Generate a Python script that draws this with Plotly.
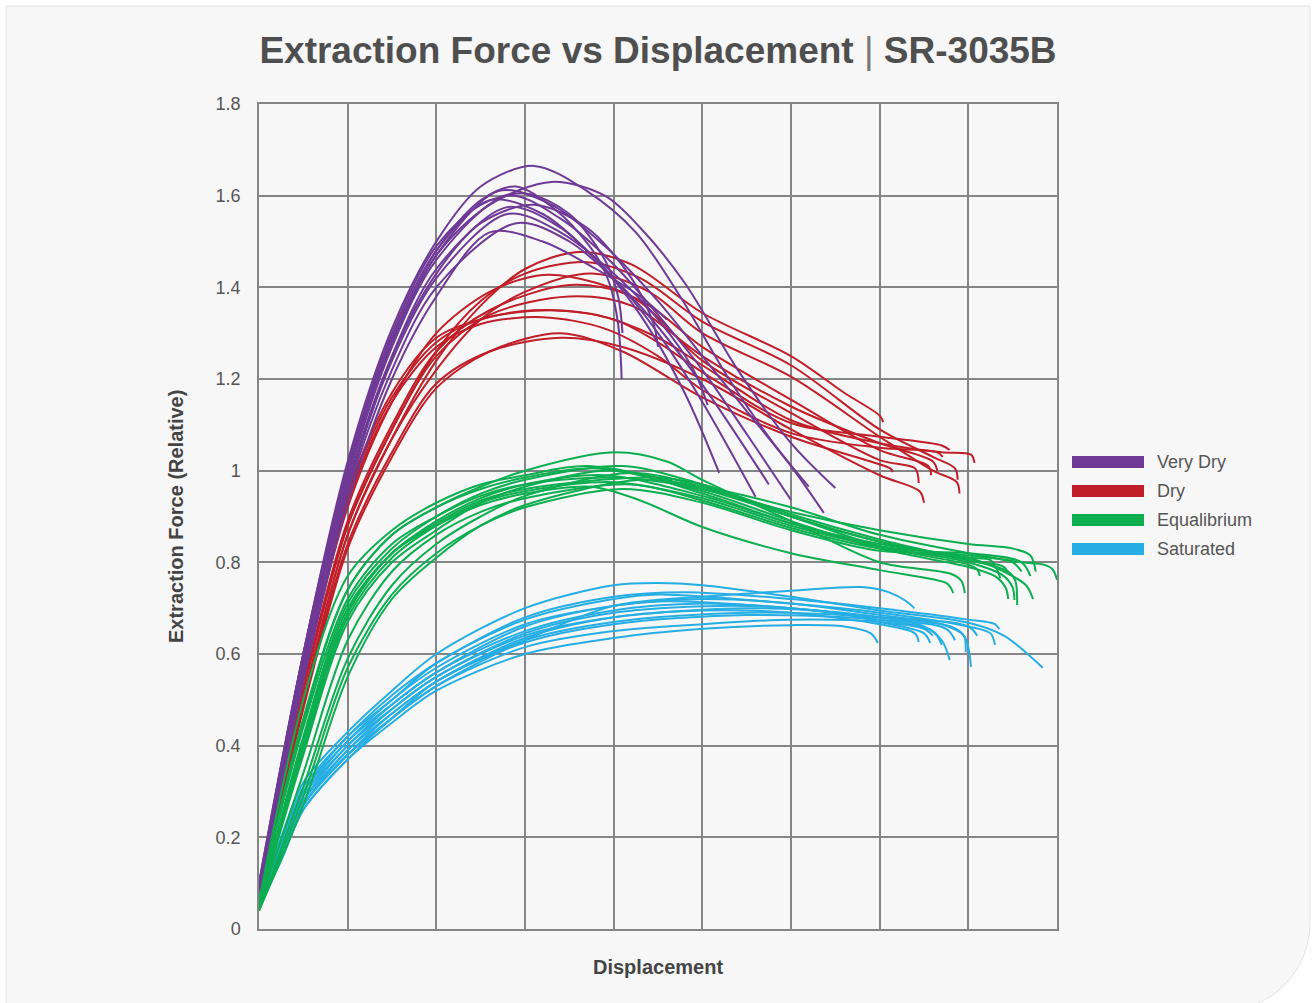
import plotly.graph_objects as go

# ---------------- data (x in displacement grid units, y relative force) ----------------
SERIES_NAMES = ["Very Dry", "Dry", "Equalibrium", "Saturated"]
SERIES_COLORS = ["#6f3996", "#c01e28", "#0cae50", "#26aee4"]

VERY_DRY_X = [
    [0, 0.5, 1, 1.5, 2, 2.5, 3.1, 3.7, 4.25, 4.75, 5.3, 5.8, 6.2],
    [0, 0.5, 1, 1.5, 2, 2.6, 3.3, 3.9, 4.3, 4.8, 5.4, 6.0, 6.5],
    [0, 0.5, 1, 1.5, 2, 2.5, 2.9, 3.4, 3.8, 3.95, 4.05, 4.09],
    [0, 0.5, 1, 1.5, 2, 2.7, 3.3, 3.9, 4.5, 5.0, 5.5, 6.0, 6.37],
    [0, 0.5, 1, 1.5, 2, 2.5, 3.0, 3.5, 3.9, 4.05, 4.1],
    [0, 0.5, 1, 1.5, 2, 2.8, 3.4, 4.0, 4.5, 5.0, 5.5, 6.0],
    [0, 0.5, 1, 1.5, 2, 2.6, 3.2, 3.8, 4.3, 4.8, 5.19],
    [0, 0.5, 1, 1.5, 2, 2.5, 3.1, 3.7, 4.2, 4.45, 4.5],
    [0, 0.5, 1, 1.5, 2, 2.8, 3.4, 4.0, 4.5, 5.0, 5.6],
    [0, 0.5, 1, 1.5, 2, 2.8, 3.4, 4.0, 4.5, 4.9, 5.06],
    [0, 0.5, 1, 1.5, 2, 2.9, 3.5, 4.1, 4.6, 5.1, 5.75],
    [0, 0.5, 1, 1.5, 2, 2.6, 3.2, 3.8, 4.3, 4.6],
]
VERY_DRY_Y = [
    [0.09, 0.60, 1.02, 1.31, 1.50, 1.62, 1.665, 1.61, 1.52, 1.38, 1.20, 1.06, 0.965],
    [0.10, 0.60, 1.00, 1.28, 1.47, 1.58, 1.63, 1.60, 1.53, 1.41, 1.22, 1.06, 0.962],
    [0.08, 0.58, 1.00, 1.29, 1.48, 1.59, 1.62, 1.56, 1.47, 1.41, 1.32, 1.20],
    [0.08, 0.58, 0.99, 1.28, 1.47, 1.61, 1.58, 1.49, 1.37, 1.25, 1.13, 1.01, 0.908],
    [0.09, 0.60, 1.01, 1.30, 1.49, 1.58, 1.605, 1.56, 1.46, 1.38, 1.30],
    [0.07, 0.57, 0.98, 1.27, 1.46, 1.60, 1.55, 1.45, 1.34, 1.22, 1.08, 0.936],
    [0.10, 0.60, 1.00, 1.29, 1.48, 1.59, 1.56, 1.46, 1.34, 1.17, 0.995],
    [0.08, 0.57, 0.97, 1.25, 1.43, 1.54, 1.58, 1.53, 1.42, 1.32, 1.27],
    [0.08, 0.56, 0.96, 1.25, 1.44, 1.575, 1.53, 1.42, 1.30, 1.15, 0.943],
    [0.09, 0.56, 0.96, 1.24, 1.42, 1.56, 1.52, 1.43, 1.33, 1.22, 1.143],
    [0.07, 0.55, 0.95, 1.22, 1.40, 1.54, 1.50, 1.40, 1.29, 1.16, 0.97],
    [0.08, 0.54, 0.93, 1.20, 1.38, 1.52, 1.50, 1.44, 1.38, 1.33],
]

DRY_X = [
    [0, 0.5, 1, 1.5, 2, 2.5, 3.0, 3.6, 4.2, 5.0, 6.0, 6.6, 7.0, 7.04],
    [0, 0.5, 1, 1.5, 2, 2.5, 3.0, 3.7, 4.3, 5.0, 6.0, 7.0, 7.6, 7.85, 7.88],
    [0, 0.5, 1, 1.5, 2, 2.5, 3.0, 3.75, 4.4, 5.0, 6.0, 7.0, 7.6, 7.87, 7.9],
    [0, 0.5, 1, 1.5, 2, 2.6, 3.2, 3.8, 4.4, 5.0, 6.0, 7.0, 7.55, 7.58],
    [0, 0.5, 1, 1.5, 2, 2.6, 3.5, 4.2, 5.0, 6.0, 7.0, 7.4, 7.44],
    [0, 0.5, 1, 1.5, 2, 2.5, 3.1, 3.8, 4.5, 5.0, 6.0, 7.0, 7.7, 8.03, 8.07],
    [0, 0.5, 1, 1.5, 2, 2.5, 3.3, 4.0, 4.5, 5.0, 6.0, 7.0, 7.7, 7.79],
    [0, 0.5, 1, 1.5, 2, 2.5, 3.2, 3.9, 4.5, 5.0, 6.0, 7.0, 7.65, 7.71],
    [0, 0.5, 1, 1.5, 2, 2.6, 3.4, 4.1, 5.0, 6.0, 6.9, 7.12, 7.15],
    [0, 0.5, 1, 1.5, 2, 2.6, 3.4, 4.1, 5.0, 6.0, 7.0, 7.45, 7.5],
    [0, 0.5, 1, 1.5, 2, 2.6, 3.5, 4.2, 5.0, 6.0, 7.0, 7.6, 7.65],
]
DRY_Y = [
    [0.08, 0.50, 0.86, 1.07, 1.24, 1.36, 1.44, 1.477, 1.45, 1.344, 1.25, 1.17, 1.12, 1.106],
    [0.09, 0.52, 0.88, 1.09, 1.26, 1.37, 1.43, 1.455, 1.42, 1.325, 1.23, 1.09, 1.03, 1.005, 0.98],
    [0.07, 0.50, 0.86, 1.07, 1.22, 1.33, 1.39, 1.43, 1.39, 1.30, 1.205, 1.074, 1.0, 0.975, 0.95],
    [0.08, 0.55, 0.92, 1.15, 1.30, 1.39, 1.427, 1.41, 1.36, 1.27, 1.155, 1.045, 1.01, 0.99],
    [0.08, 0.53, 0.89, 1.10, 1.26, 1.35, 1.405, 1.38, 1.24, 1.126, 1.023, 1.005, 0.973],
    [0.09, 0.57, 0.95, 1.17, 1.29, 1.33, 1.35, 1.34, 1.29, 1.23, 1.11, 1.06, 1.04, 1.035, 1.017],
    [0.09, 0.56, 0.94, 1.16, 1.28, 1.33, 1.35, 1.33, 1.28, 1.215, 1.104, 1.074, 1.055, 1.045],
    [0.08, 0.55, 0.93, 1.15, 1.27, 1.32, 1.335, 1.31, 1.25, 1.176, 1.082, 1.05, 1.04, 1.03],
    [0.07, 0.48, 0.83, 1.03, 1.18, 1.26, 1.30, 1.26, 1.16, 1.074, 1.02, 1.005, 0.997],
    [0.07, 0.49, 0.84, 1.04, 1.19, 1.26, 1.29, 1.27, 1.20, 1.09, 0.99, 0.955, 0.93],
    [0.08, 0.52, 0.88, 1.09, 1.25, 1.34, 1.38, 1.36, 1.25, 1.14, 1.06, 1.02, 1.0],
]

EQUALIBRIUM_X = [
    [0, 0.5, 1, 1.5, 2, 2.5, 3, 3.75, 4.3, 5, 6, 7, 7.75, 7.8, 7.83],
    [0, 0.5, 1, 1.5, 2, 2.5, 3, 4.0, 4.6, 5, 6, 7, 7.8, 7.92, 7.96],
    [0, 0.5, 1, 1.5, 2, 2.5, 3, 3.7, 5, 6, 7, 8, 8.1, 8.13],
    [0, 0.5, 1, 1.5, 2, 2.5, 3, 4.1, 5, 6, 7, 8, 8.3, 8.36],
    [0, 0.5, 1, 1.5, 2, 2.5, 3, 3.8, 5, 6, 7, 8, 8.3, 8.42, 8.45],
    [0, 0.5, 1, 1.5, 2, 2.5, 3, 4.0, 5, 6, 7, 8, 8.4, 8.5, 8.52],
    [0, 0.5, 1, 1.5, 2, 2.5, 3, 4.2, 5, 6, 7, 8, 8.45, 8.53, 8.55],
    [0, 0.5, 1, 1.5, 2, 2.5, 3, 3.9, 5, 6, 7, 8, 8.4, 8.65, 8.73],
    [0, 0.5, 1, 1.5, 2, 2.5, 3, 4.0, 5, 6, 7, 8, 8.5, 8.7, 8.76],
    [0, 0.5, 1, 1.5, 2, 2.5, 3, 4.3, 5, 6, 7, 8, 8.6, 8.85, 8.95, 9.0],
    [0, 0.5, 1, 1.5, 2, 2.5, 3, 4.0, 5, 6, 7, 8, 8.5, 8.6],
    [0, 0.5, 1, 1.5, 2, 2.5, 3, 4.2, 5, 6, 7, 8, 8.25, 8.3],
    [0, 0.5, 1, 1.5, 2, 2.5, 3, 4.1, 5, 6, 7, 8, 8.6, 8.7],
    [0, 0.5, 1, 1.5, 2, 2.5, 3, 4.4, 5, 6, 7, 8, 8.4, 8.45],
]
EQUALIBRIUM_Y = [
    [0.05, 0.40, 0.69, 0.82, 0.88, 0.925, 0.95, 0.965, 0.935, 0.877, 0.82, 0.783, 0.755, 0.745, 0.733],
    [0.06, 0.45, 0.74, 0.86, 0.92, 0.965, 1.0, 1.04, 1.02, 0.98, 0.89, 0.80, 0.775, 0.76, 0.733],
    [0.06, 0.50, 0.77, 0.87, 0.93, 0.97, 0.99, 1.01, 0.96, 0.90, 0.835, 0.795, 0.785, 0.77],
    [0.05, 0.42, 0.71, 0.83, 0.90, 0.95, 0.98, 1.01, 0.97, 0.905, 0.85, 0.805, 0.79, 0.765],
    [0.06, 0.46, 0.74, 0.86, 0.92, 0.96, 0.985, 1.005, 0.955, 0.89, 0.83, 0.79, 0.77, 0.745, 0.72],
    [0.05, 0.38, 0.67, 0.80, 0.87, 0.93, 0.965, 1.0, 0.95, 0.885, 0.835, 0.80, 0.77, 0.745, 0.718],
    [0.04, 0.31, 0.59, 0.75, 0.84, 0.90, 0.945, 0.995, 0.965, 0.90, 0.845, 0.805, 0.78, 0.76, 0.707],
    [0.05, 0.41, 0.70, 0.82, 0.89, 0.94, 0.97, 0.99, 0.945, 0.885, 0.84, 0.81, 0.78, 0.75, 0.72],
    [0.06, 0.44, 0.72, 0.84, 0.90, 0.945, 0.97, 0.985, 0.96, 0.91, 0.87, 0.84, 0.83, 0.815, 0.78],
    [0.04, 0.27, 0.55, 0.72, 0.81, 0.88, 0.925, 0.98, 0.965, 0.92, 0.86, 0.82, 0.80, 0.795, 0.785, 0.762],
    [0.05, 0.39, 0.68, 0.81, 0.88, 0.93, 0.955, 0.975, 0.94, 0.88, 0.835, 0.815, 0.80, 0.78],
    [0.05, 0.34, 0.63, 0.78, 0.86, 0.91, 0.94, 0.97, 0.935, 0.875, 0.83, 0.81, 0.805, 0.79],
    [0.04, 0.29, 0.57, 0.73, 0.82, 0.88, 0.92, 0.96, 0.93, 0.87, 0.825, 0.82, 0.80, 0.77],
    [0.05, 0.40, 0.69, 0.82, 0.885, 0.935, 0.96, 0.985, 0.97, 0.90, 0.845, 0.805, 0.79, 0.775],
]

SATURATED_X = [
    [0, 0.25, 0.5, 1, 1.5, 2, 3, 4, 4.5, 5, 6, 7, 8, 8.4, 8.84],
    [0, 0.25, 0.5, 1, 1.5, 2, 3, 4, 5, 6, 6.8, 7.1, 7.3, 7.39],
    [0, 0.25, 0.5, 1, 1.5, 2, 3, 4, 4.8, 6, 7, 8, 8.3, 8.35],
    [0, 0.25, 0.5, 1, 1.5, 2, 3, 4, 4.5, 6, 7, 8, 8.25, 8.3],
    [0, 0.25, 0.5, 1, 1.5, 2, 3, 4, 5, 6, 7, 7.7, 7.95, 8.03],
    [0, 0.25, 0.5, 1, 1.5, 2, 3, 4, 4.6, 6, 7, 7.8, 7.95, 7.97],
    [0, 0.25, 0.5, 1, 1.5, 2, 3, 4, 5, 6, 7, 7.5, 7.7, 7.79],
    [0, 0.25, 0.5, 1, 1.5, 2, 3, 4, 5.2, 6, 7, 7.6, 7.7],
    [0, 0.25, 0.5, 1, 1.5, 2, 3, 4, 5.5, 6.5, 7, 7.5, 7.57],
    [0, 0.25, 0.5, 1, 1.5, 2, 3, 4, 5, 6, 7, 7.4, 7.44],
    [0, 0.25, 0.5, 1, 1.5, 2, 3, 4, 5.5, 7, 8, 8.1],
    [0, 0.25, 0.5, 1, 1.5, 2, 3, 4, 5.5, 7, 7.75, 7.85],
    [0, 0.25, 0.5, 1, 1.5, 2, 3, 4, 5, 6, 7, 7.5, 7.6],
    [0, 0.25, 0.5, 1, 1.5, 2, 3, 4, 5, 6, 6.6, 6.9, 6.98],
]
SATURATED_Y = [
    [0.07, 0.20, 0.32, 0.43, 0.52, 0.60, 0.70, 0.75, 0.755, 0.75, 0.725, 0.695, 0.668, 0.64, 0.57],
    [0.05, 0.16, 0.27, 0.38, 0.46, 0.53, 0.63, 0.705, 0.725, 0.738, 0.746, 0.735, 0.715, 0.70],
    [0.06, 0.19, 0.31, 0.42, 0.51, 0.58, 0.68, 0.725, 0.735, 0.72, 0.70, 0.675, 0.665, 0.654],
    [0.06, 0.19, 0.30, 0.42, 0.50, 0.58, 0.675, 0.72, 0.73, 0.71, 0.69, 0.66, 0.645, 0.62],
    [0.06, 0.18, 0.30, 0.41, 0.50, 0.57, 0.665, 0.705, 0.72, 0.71, 0.685, 0.665, 0.64, 0.572],
    [0.06, 0.18, 0.29, 0.41, 0.49, 0.56, 0.66, 0.705, 0.715, 0.70, 0.68, 0.66, 0.64, 0.604],
    [0.05, 0.17, 0.29, 0.40, 0.49, 0.56, 0.65, 0.695, 0.71, 0.70, 0.68, 0.66, 0.63, 0.587],
    [0.05, 0.17, 0.28, 0.40, 0.48, 0.55, 0.645, 0.69, 0.705, 0.70, 0.675, 0.65, 0.62],
    [0.05, 0.17, 0.28, 0.39, 0.48, 0.55, 0.64, 0.68, 0.70, 0.69, 0.67, 0.645, 0.624],
    [0.05, 0.16, 0.27, 0.39, 0.47, 0.54, 0.635, 0.68, 0.695, 0.69, 0.665, 0.645, 0.626],
    [0.05, 0.16, 0.27, 0.38, 0.47, 0.54, 0.63, 0.67, 0.69, 0.68, 0.66, 0.64],
    [0.05, 0.16, 0.27, 0.38, 0.46, 0.54, 0.625, 0.665, 0.685, 0.675, 0.655, 0.63],
    [0.05, 0.15, 0.26, 0.37, 0.46, 0.53, 0.615, 0.65, 0.665, 0.675, 0.67, 0.655, 0.64],
    [0.05, 0.15, 0.26, 0.37, 0.45, 0.52, 0.60, 0.635, 0.655, 0.663, 0.66, 0.645, 0.624],
]

Y_TICKS = [0, 0.2, 0.4, 0.6, 0.8, 1.0, 1.2, 1.4, 1.6, 1.8]
Y_TICK_LABELS = ["0", "0.2", "0.4", "0.6", "0.8", "1", "1.2", "1.4", "1.6", "1.8"]

# ---------------- figure ----------------
W, H = 1316, 1003
OFF = 0  # body margin removed by post_script below
SX0, SX1, SY0, SY1 = 259, 1057, 104, 929   # target screen positions of the plot area
ML, MT = SX0 - OFF, SY0 - OFF
MR, MB = W - (SX1 - OFF), H - (SY1 - OFF)
PW, PH = SX1 - SX0, SY1 - SY0
FONT = "Liberation Sans, Arial, Helvetica, sans-serif"


def px(xs):
    """screen x pixel -> paper fraction"""
    return (xs - SX0) / PW


def py(ys):
    """screen y pixel -> paper fraction"""
    return (SY1 - ys) / PH


fig = go.Figure()

draw_order = [(1, DRY_X, DRY_Y), (0, VERY_DRY_X, VERY_DRY_Y),
              (3, SATURATED_X, SATURATED_Y), (2, EQUALIBRIUM_X, EQUALIBRIUM_Y)]
for idx, xs, ys in draw_order:
    for cx, cy in zip(xs, ys):
        fig.add_trace(go.Scatter(
            x=cx, y=cy, mode="lines", name=SERIES_NAMES[idx],
            line=dict(color=SERIES_COLORS[idx], width=2, shape="spline", smoothing=0.9),
            showlegend=False, hoverinfo="skip"))

# card background with rounded bottom-right corner
r = 88
cx0, cy0 = 1310 - r, 923
k = 0.5523 * r
card = (f"M {px(6)},{py(6)} L {px(1310)},{py(6)} L {px(1310)},{py(cy0)} "
        f"C {px(1310)},{py(cy0 + k)} {px(cx0 + k)},{py(cy0 + r)} {px(cx0)},{py(cy0 + r)} "
        f"L {px(6)},{py(cy0 + r)} Z")
shapes = [dict(type="path", path=card, xref="paper", yref="paper",
               fillcolor="#f7f7f7", line=dict(color="#e3e3e3", width=1), layer="below")]

annotations = []
legend_rows = [462, 491, 520, 549]
for i, (name, color) in enumerate(zip(SERIES_NAMES, SERIES_COLORS)):
    yc = legend_rows[i]
    shapes.append(dict(type="rect", xref="paper", yref="paper",
                       x0=px(1072), x1=px(1144), y0=py(yc + 6), y1=py(yc - 6),
                       fillcolor=color, line=dict(width=0)))
    annotations.append(dict(text=name, xref="paper", yref="paper", x=px(1155), y=py(yc),
                            xanchor="left", yanchor="middle", showarrow=False,
                            font=dict(family=FONT, size=18, color="#555555")))

annotations.append(dict(text="<b>Extraction Force (Relative)</b>", xref="paper", yref="paper",
                        x=px(176), y=py(517), textangle=-90, showarrow=False,
                        xanchor="center", yanchor="middle",
                        font=dict(family=FONT, size=20, color="#444444")))
annotations.append(dict(text="<b>Displacement</b>", xref="paper", yref="paper",
                        x=px(658), y=py(967), showarrow=False,
                        xanchor="center", yanchor="middle",
                        font=dict(family=FONT, size=20, color="#444444")))

grid = "#858585"
fig.update_layout(
    width=W, height=H,
    margin=dict(l=ML, r=MR, t=MT, b=MB),
    paper_bgcolor="white", plot_bgcolor="rgba(0,0,0,0)",
    showlegend=False,
    title=dict(text="<b>Extraction Force vs Displacement</b> <span style='color:#777'>|</span> <b>SR-3035B</b>",
               x=px(658), xref="paper", xanchor="center", y=1 - (50 - OFF) / H, yref="container",
               yanchor="middle",
               font=dict(family=FONT, size=37, color="#4f4f4f")),
    xaxis=dict(range=[0, 9], tick0=0, dtick=1, showticklabels=False, ticks="",
               showgrid=True, gridcolor=grid, gridwidth=1.5, zeroline=False,
               showline=True, linecolor=grid, linewidth=1.5, mirror=True, fixedrange=True),
    yaxis=dict(range=[0, 1.8], tickvals=Y_TICKS, ticktext=Y_TICK_LABELS, ticks="",
               ticklabelstandoff=13,
               tickfont=dict(family=FONT, size=18, color="#555555"),
               showgrid=True, gridcolor=grid, gridwidth=1.5, zeroline=False,
               showline=True, linecolor=grid, linewidth=1.5, mirror=True, fixedrange=True),
    shapes=shapes, annotations=annotations,
)

fig.write_html("out.html",
               config={"displayModeBar": False},
               post_script="document.body.style.margin='0';document.body.style.overflow='hidden';")
